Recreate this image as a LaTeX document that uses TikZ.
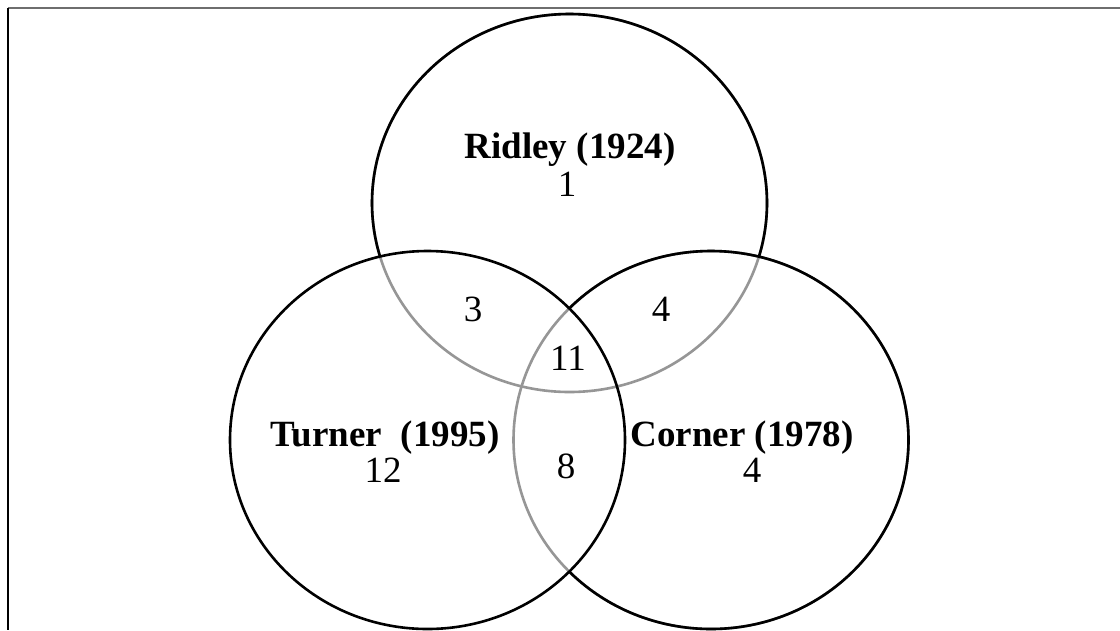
\documentclass[tikz,border=0pt]{standalone}
\usepackage{fontspec}
\setmainfont{Liberation Serif}
\definecolor{arcgray}{RGB}{150,150,150}
\definecolor{framegray}{RGB}{110,110,110}
\begin{document}
\begin{tikzpicture}[x=1pt,y=-1pt,
  ring/.style={line width=2.6pt},
  oval/.style={x radius=197.5pt, y radius=189pt},
  lbl/.style={font=\fontsize{37}{43}\selectfont\bfseries, inner sep=0pt},
  num/.style={font=\fontsize{37}{43}\selectfont, inner sep=0pt}]
\useasboundingbox (0,0) rectangle (1120,630);
\fill[white] (0,0) rectangle (1120,630);
% frame
\coordinate (f0) at (8,8);
\coordinate (f1) at (1120,8);
\coordinate (f2) at (8,630);
\draw[framegray, line width=2pt] (f0) -- (f1);
\draw[black, line width=2pt] (f0) -- (f2);
% centres
\coordinate (R) at (569.5,203);
\coordinate (T) at (427.5,440);
\coordinate (C) at (711,440);
% gray arcs (inside other circles)
\draw[ring, arcgray] (R) ellipse [oval];
\draw[ring, arcgray] (C) ellipse [oval];
% black parts
\draw[ring] (T) ellipse [oval];
\begin{scope}[even odd rule]
  \clip (-10,-10) rectangle (1130,640) (T) ellipse [oval];
  \draw[ring] (C) ellipse [oval];
  \begin{scope}[even odd rule]
    \clip (-10,-10) rectangle (1130,640) (C) ellipse [oval];
    \draw[ring] (R) ellipse [oval];
  \end{scope}
\end{scope}
% labels
\node[lbl] (rl) at (570,150) {Ridley (1924)};
\node[num] (r1) at (567,184) {1};
\node[num] (rt) at (473,309) {3};
\node[num] (rc) at (661,309) {4};
\node[num] (rtc) at (568,358) {11};
\node[lbl] (tl) at (385,438) {Turner \ (1995)};
\node[num] (t1) at (383,470) {12};
\node[num] (tc) at (566,466) {8};
\node[lbl] (cl) at (742,438) {Corner (1978)};
\node[num] (c1) at (752,470) {4};
\end{tikzpicture}
\end{document}
